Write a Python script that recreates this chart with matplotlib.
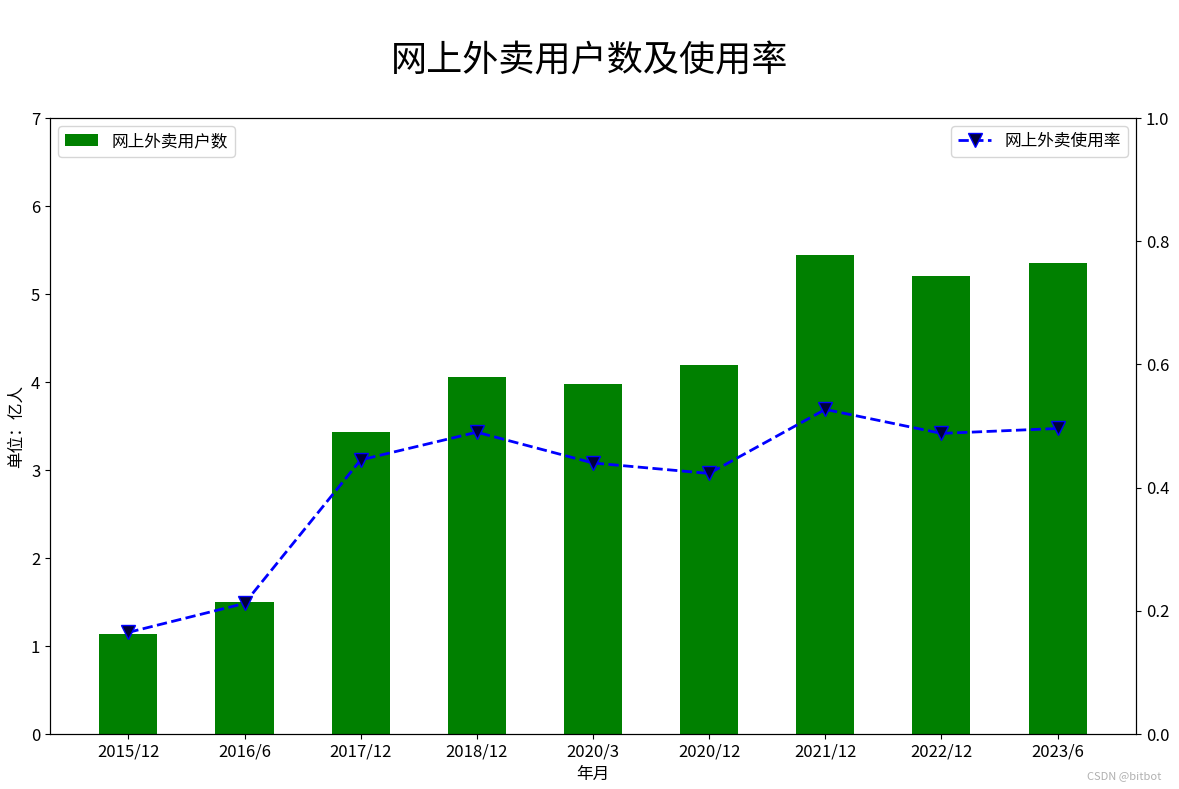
import matplotlib
matplotlib.use("Agg")
import matplotlib.pyplot as plt

plt.rcParams['font.family'] = ['Noto Sans CJK SC', 'DejaVu Sans']
plt.rcParams['axes.unicode_minus'] = False
plt.rcParams['font.size'] = 12

# 数据
months = ['2015/12', '2016/6', '2017/12', '2018/12', '2020/3',
          '2020/12', '2021/12', '2022/12', '2023/6']
users = [1.14, 1.50, 3.43, 4.06, 3.98, 4.19, 5.44, 5.21, 5.35]
rate = [0.165, 0.212, 0.445, 0.490, 0.440, 0.423, 0.527, 0.488, 0.496]

fig = plt.figure(figsize=(11.79, 7.89), dpi=100)
ax1 = fig.add_axes([0.0424, 0.0697, 0.9211, 0.7807])

ax1.bar(months, users, width=0.5, color='green', label='网上外卖用户数')
ax1.set_ylim(0, 7)
ax1.set_ylabel('单位：亿人')
ax1.set_xlabel('年月')
ax1.legend(loc='upper left')

ax2 = ax1.twinx()
ax2.plot(months, rate, color='blue', linestyle='--', linewidth=2,
         marker='v', markersize=10, markerfacecolor='#00003a',
         markeredgecolor='blue', label='网上外卖使用率')
ax2.set_ylim(0, 1.0)
ax2.legend(loc='upper right')

fig.suptitle('网上外卖用户数及使用率', fontsize=26, y=0.945)
fig.text(0.985, 0.012, 'CSDN @bitbot', fontsize=8, color='#b0b0b0', ha='right')

plt.savefig('out.png')
